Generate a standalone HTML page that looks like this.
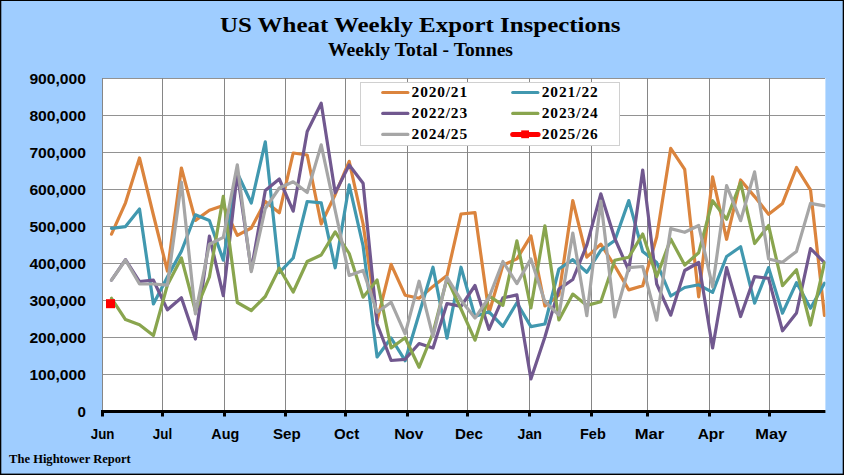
<!DOCTYPE html>
<html><head><meta charset="utf-8"><title>US Wheat Weekly Export Inspections</title>
<style>html,body{margin:0;padding:0;background:#9FCDFF;overflow:hidden}svg{display:block}.t{font-family:"Liberation Serif",serif;font-weight:bold;fill:#000}.s{font-family:"Liberation Sans",sans-serif;font-weight:bold;fill:#000}</style></head><body>
<svg width="844" height="475" viewBox="0 0 844 475">
<rect x="0" y="0" width="844" height="475" fill="#9FCDFF"/>
<rect x="0" y="0" width="844" height="1" fill="#000"/>
<rect x="0" y="473.6" width="844" height="1.4" fill="#000"/>
<rect x="0" y="0" width="1.3" height="475" fill="#000"/>
<rect x="842.7" y="0" width="1.3" height="475" fill="#000"/>
<rect x="102" y="78" width="723.4" height="333" fill="#fff"/>
<g stroke="#868686" stroke-width="1" shape-rendering="crispEdges">
<line x1="102" y1="78.5" x2="825.4" y2="78.5" stroke="#929292"/>
<line x1="102" y1="115.5" x2="825.4" y2="115.5" stroke="#929292"/>
<line x1="102" y1="152.5" x2="825.4" y2="152.5" stroke="#929292"/>
<line x1="102" y1="189.5" x2="825.4" y2="189.5" stroke="#929292"/>
<line x1="102" y1="226.5" x2="825.4" y2="226.5" stroke="#929292"/>
<line x1="102" y1="263.5" x2="825.4" y2="263.5" stroke="#929292"/>
<line x1="102" y1="300.5" x2="825.4" y2="300.5" stroke="#929292"/>
<line x1="102" y1="337.5" x2="825.4" y2="337.5" stroke="#929292"/>
<line x1="102" y1="374.5" x2="825.4" y2="374.5" stroke="#929292"/>
<line x1="102.5" y1="78" x2="102.5" y2="411"/>
<line x1="162.5" y1="78" x2="162.5" y2="411"/>
<line x1="224.5" y1="78" x2="224.5" y2="411"/>
<line x1="285.5" y1="78" x2="285.5" y2="411"/>
<line x1="345.5" y1="78" x2="345.5" y2="411"/>
<line x1="407.5" y1="78" x2="407.5" y2="411"/>
<line x1="467.5" y1="78" x2="467.5" y2="411"/>
<line x1="529.5" y1="78" x2="529.5" y2="411"/>
<line x1="591.5" y1="78" x2="591.5" y2="411"/>
<line x1="647.5" y1="78" x2="647.5" y2="411"/>
<line x1="709.5" y1="78" x2="709.5" y2="411"/>
<line x1="769.5" y1="78" x2="769.5" y2="411"/>
</g>
<rect x="360.5" y="82.5" width="259" height="63" fill="#fff" stroke="#D0D0D0" stroke-width="1"/>
<clipPath id="cp"><rect x="102" y="68" width="723.4" height="343"/></clipPath>
<g fill="none" stroke-width="3.2" stroke-linejoin="round" stroke-linecap="round" clip-path="url(#cp)">
<polyline stroke="#DB843D" points="111.5,234.2 125.5,202.8 139.5,158.0 153.4,215.0 167.4,271.0 181.4,168.0 195.4,220.4 209.4,210.3 223.3,205.5 237.3,235.4 251.3,228.0 265.3,201.5 279.3,212.8 293.2,153.0 307.2,155.0 321.2,224.0 335.2,194.5 349.2,161.3 363.1,224.0 377.1,320.6 391.1,264.4 405.1,295.2 419.1,298.2 433.0,286.4 447.0,275.5 461.0,214.0 475.0,212.7 489.0,313.0 502.9,265.2 516.9,258.9 530.9,235.9 544.9,306.0 558.9,295.0 572.8,200.6 586.8,257.2 600.8,244.2 614.8,266.0 628.8,289.9 642.7,285.8 656.7,237.0 670.7,148.4 684.7,169.3 698.7,296.9 712.6,176.8 726.6,239.3 740.6,180.0 754.6,196.6 768.6,214.2 782.5,203.4 796.5,167.5 810.5,189.8 824.5,315.5"/>
<polyline stroke="#4198AF" points="111.5,228.4 125.5,226.6 139.5,209.0 153.4,304.0 167.4,277.0 181.4,251.3 195.4,214.8 209.4,220.5 223.3,260.2 237.3,173.0 251.3,203.0 265.3,141.8 279.3,272.7 293.2,258.0 307.2,201.5 321.2,202.8 335.2,267.8 349.2,184.8 363.1,246.0 377.1,357.0 391.1,338.0 405.1,360.7 419.1,314.0 433.0,267.2 447.0,338.1 461.0,267.2 475.0,316.6 489.0,311.8 502.9,326.3 516.9,302.7 530.9,326.6 544.9,324.0 558.9,269.0 572.8,259.7 586.8,272.3 600.8,250.4 614.8,240.5 628.8,200.6 642.7,251.5 656.7,262.5 670.7,296.0 684.7,287.5 698.7,284.8 712.6,292.4 726.6,256.5 740.6,246.7 754.6,303.2 768.6,267.6 782.5,313.2 796.5,282.6 810.5,308.2 824.5,283.3"/>
<polyline stroke="#71588F" points="111.5,280.2 125.5,259.6 139.5,281.5 153.4,280.2 167.4,309.8 181.4,297.7 195.4,339.0 209.4,236.1 223.3,295.7 237.3,173.0 251.3,270.0 265.3,190.5 279.3,179.0 293.2,211.2 307.2,131.5 321.2,103.2 335.2,192.9 349.2,165.0 363.1,183.2 377.1,324.0 391.1,360.5 405.1,359.3 419.1,343.5 433.0,348.0 447.0,303.5 461.0,306.4 475.0,285.5 489.0,329.4 502.9,297.9 516.9,294.9 530.9,378.9 544.9,337.0 558.9,289.1 572.8,279.5 586.8,245.1 600.8,193.8 614.8,238.5 628.8,270.5 642.7,170.0 656.7,284.0 670.7,315.2 684.7,270.5 698.7,262.5 712.6,348.0 726.6,267.6 740.6,316.5 754.6,276.6 768.6,278.3 782.5,330.8 796.5,313.0 810.5,248.5 824.5,262.7"/>
<polyline stroke="#89A54E" points="111.5,298.3 125.5,319.6 139.5,324.7 153.4,335.5 167.4,285.0 181.4,257.9 195.4,311.0 209.4,277.0 223.3,196.3 237.3,302.5 251.3,310.5 265.3,296.5 279.3,268.2 293.2,292.0 307.2,261.5 321.2,255.0 335.2,231.9 349.2,253.5 363.1,297.2 377.1,280.0 391.1,348.0 405.1,337.8 419.1,367.2 433.0,333.0 447.0,278.5 461.0,309.0 475.0,340.2 489.0,295.9 502.9,305.4 516.9,240.8 530.9,308.0 544.9,225.8 558.9,320.0 572.8,294.1 586.8,305.4 600.8,301.7 614.8,260.2 628.8,257.2 642.7,234.0 656.7,276.8 670.7,239.1 684.7,265.0 698.7,252.7 712.6,200.7 726.6,219.2 740.6,182.6 754.6,243.5 768.6,225.5 782.5,285.6 796.5,269.8 810.5,325.0 824.5,262.7"/>
<polyline stroke="#A6A6A6" points="111.5,280.2 125.5,260.0 139.5,284.0 153.4,284.0 167.4,285.2 181.4,182.2 195.4,313.9 209.4,244.2 223.3,237.4 237.3,164.8 251.3,271.7 265.3,208.5 279.3,188.0 293.2,181.8 307.2,192.5 321.2,144.9 335.2,210.5 349.2,275.5 363.1,270.5 377.1,312.3 391.1,302.2 405.1,333.8 419.1,281.2 433.0,336.5 447.0,277.4 461.0,300.2 475.0,318.1 489.0,297.5 502.9,261.5 516.9,283.6 530.9,258.9 544.9,301.7 558.9,315.0 572.8,233.1 586.8,315.7 600.8,201.0 614.8,317.0 628.8,267.7 642.7,266.5 656.7,320.2 670.7,228.6 684.7,232.3 698.7,225.5 712.6,286.9 726.6,185.6 740.6,220.7 754.6,171.9 768.6,259.0 782.5,262.2 796.5,251.4 810.5,203.4 824.5,205.9"/>
</g>
<rect x="106" y="299.2" width="9" height="9" fill="#FF0000"/>
<rect x="101" y="410" width="724.4" height="3" fill="#000"/>
<rect x="101.0" y="410" width="3" height="6.5" fill="#000"/>
<rect x="161.0" y="410" width="3" height="6.5" fill="#000"/>
<rect x="223.0" y="410" width="3" height="6.5" fill="#000"/>
<rect x="284.0" y="410" width="3" height="6.5" fill="#000"/>
<rect x="344.0" y="410" width="3" height="6.5" fill="#000"/>
<rect x="406.0" y="410" width="3" height="6.5" fill="#000"/>
<rect x="466.0" y="410" width="3" height="6.5" fill="#000"/>
<rect x="528.0" y="410" width="3" height="6.5" fill="#000"/>
<rect x="590.0" y="410" width="3" height="6.5" fill="#000"/>
<rect x="646.0" y="410" width="3" height="6.5" fill="#000"/>
<rect x="708.0" y="410" width="3" height="6.5" fill="#000"/>
<rect x="768.0" y="410" width="3" height="6.5" fill="#000"/>
<text class="s" x="86" y="83.6" font-size="14.2" text-anchor="end" textLength="56.6" lengthAdjust="spacingAndGlyphs">900,000</text>
<text class="s" x="86" y="120.6" font-size="14.2" text-anchor="end" textLength="56.6" lengthAdjust="spacingAndGlyphs">800,000</text>
<text class="s" x="86" y="157.6" font-size="14.2" text-anchor="end" textLength="56.6" lengthAdjust="spacingAndGlyphs">700,000</text>
<text class="s" x="86" y="194.6" font-size="14.2" text-anchor="end" textLength="56.6" lengthAdjust="spacingAndGlyphs">600,000</text>
<text class="s" x="86" y="231.6" font-size="14.2" text-anchor="end" textLength="56.6" lengthAdjust="spacingAndGlyphs">500,000</text>
<text class="s" x="86" y="268.6" font-size="14.2" text-anchor="end" textLength="56.6" lengthAdjust="spacingAndGlyphs">400,000</text>
<text class="s" x="86" y="305.6" font-size="14.2" text-anchor="end" textLength="56.6" lengthAdjust="spacingAndGlyphs">300,000</text>
<text class="s" x="86" y="342.6" font-size="14.2" text-anchor="end" textLength="56.6" lengthAdjust="spacingAndGlyphs">200,000</text>
<text class="s" x="86" y="379.6" font-size="14.2" text-anchor="end" textLength="56.6" lengthAdjust="spacingAndGlyphs">100,000</text>
<text class="s" x="86" y="416.6" font-size="14.2" text-anchor="end" textLength="8.4" lengthAdjust="spacingAndGlyphs">0</text>
<text class="s" x="102.6" y="438.7" font-size="14.2" text-anchor="middle" textLength="23.6" lengthAdjust="spacingAndGlyphs">Jun</text>
<text class="s" x="162.5" y="438.7" font-size="14.2" text-anchor="middle" textLength="19.3" lengthAdjust="spacingAndGlyphs">Jul</text>
<text class="s" x="225.3" y="438.7" font-size="14.2" text-anchor="middle" textLength="27.9" lengthAdjust="spacingAndGlyphs">Aug</text>
<text class="s" x="286.8" y="438.7" font-size="14.2" text-anchor="middle" textLength="27.8" lengthAdjust="spacingAndGlyphs">Sep</text>
<text class="s" x="346.6" y="438.7" font-size="14.2" text-anchor="middle" textLength="25.1" lengthAdjust="spacingAndGlyphs">Oct</text>
<text class="s" x="408.8" y="438.7" font-size="14.2" text-anchor="middle" textLength="29.2" lengthAdjust="spacingAndGlyphs">Nov</text>
<text class="s" x="469" y="438.7" font-size="14.2" text-anchor="middle" textLength="27.8" lengthAdjust="spacingAndGlyphs">Dec</text>
<text class="s" x="529.8" y="438.7" font-size="14.2" text-anchor="middle" textLength="24.4" lengthAdjust="spacingAndGlyphs">Jan</text>
<text class="s" x="592.9" y="438.7" font-size="14.2" text-anchor="middle" textLength="25.8" lengthAdjust="spacingAndGlyphs">Feb</text>
<text class="s" x="649.5" y="438.7" font-size="14.2" text-anchor="middle" textLength="29.5" lengthAdjust="spacingAndGlyphs">Mar</text>
<text class="s" x="711" y="438.7" font-size="14.2" text-anchor="middle" textLength="26.7" lengthAdjust="spacingAndGlyphs">Apr</text>
<text class="s" x="771.3" y="438.7" font-size="14.2" text-anchor="middle" textLength="31.9" lengthAdjust="spacingAndGlyphs">May</text>
<text class="t" x="220" y="31.6" font-size="22" textLength="400.5" lengthAdjust="spacingAndGlyphs">US Wheat Weekly Export Inspections</text>
<text class="t" x="328" y="55.5" font-size="18" textLength="185" lengthAdjust="spacingAndGlyphs">Weekly Total - Tonnes</text>
<text class="t" x="9.1" y="462.7" font-size="11.5" textLength="121.7" lengthAdjust="spacingAndGlyphs">The Hightower Report</text>
<line x1="382.7" y1="92.5" x2="407.9" y2="92.5" stroke="#DB843D" stroke-width="3.1" stroke-linecap="round"/>
<text class="t" transform="translate(411.6,96.6) scale(1.1,1)" x="0" y="0" font-size="14" textLength="50.45" lengthAdjust="spacing">2020/21</text>
<line x1="512.7" y1="92.5" x2="537.9" y2="92.5" stroke="#4198AF" stroke-width="3.1" stroke-linecap="round"/>
<text class="t" transform="translate(541.7,96.6) scale(1.1,1)" x="0" y="0" font-size="14" textLength="51.00" lengthAdjust="spacing">2021/22</text>
<line x1="382.7" y1="113.4" x2="407.9" y2="113.4" stroke="#71588F" stroke-width="3.1" stroke-linecap="round"/>
<text class="t" transform="translate(411.6,117.5) scale(1.1,1)" x="0" y="0" font-size="14" textLength="50.45" lengthAdjust="spacing">2022/23</text>
<line x1="512.7" y1="113.4" x2="537.9" y2="113.4" stroke="#89A54E" stroke-width="3.1" stroke-linecap="round"/>
<text class="t" transform="translate(541.7,117.5) scale(1.1,1)" x="0" y="0" font-size="14" textLength="51.00" lengthAdjust="spacing">2023/24</text>
<line x1="382.7" y1="134.4" x2="407.9" y2="134.4" stroke="#A6A6A6" stroke-width="3.1" stroke-linecap="round"/>
<text class="t" transform="translate(411.6,138.5) scale(1.1,1)" x="0" y="0" font-size="14" textLength="50.45" lengthAdjust="spacing">2024/25</text>
<line x1="512.7" y1="134.4" x2="538.1" y2="134.4" stroke="#FF0000" stroke-width="5" stroke-linecap="round"/>
<rect x="521.2" y="130.4" width="7.8" height="7.8" fill="#FF0000"/>
<text class="t" transform="translate(541.7,138.5) scale(1.1,1)" x="0" y="0" font-size="14" textLength="51.00" lengthAdjust="spacing">2025/26</text>
</svg></body></html>
